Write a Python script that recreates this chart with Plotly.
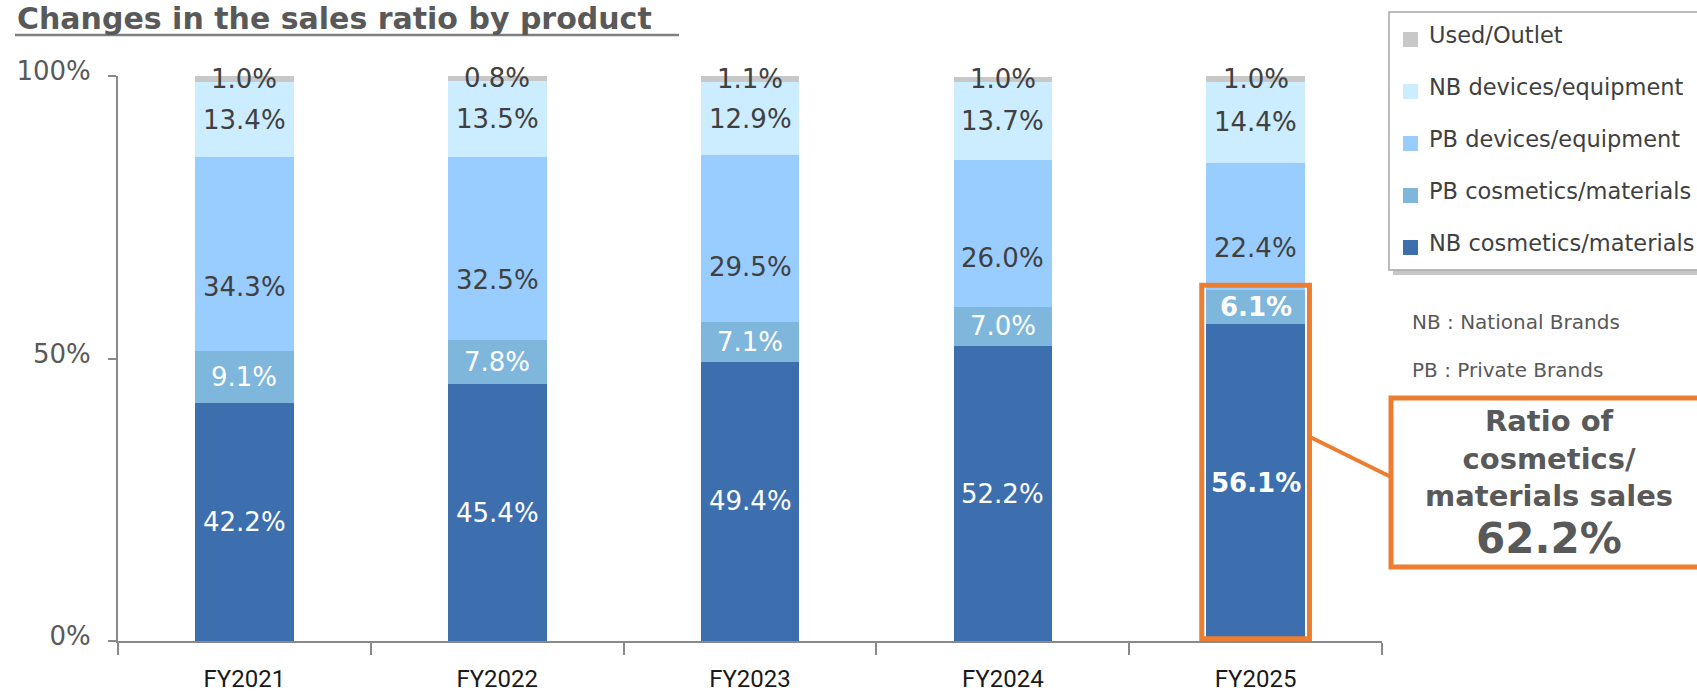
import plotly.graph_objects as go

# ---- data -------------------------------------------------------------
categories = ["FY2021", "FY2022", "FY2023", "FY2024", "FY2025"]
nb_cosmetics = [42.2, 45.4, 49.4, 52.2, 56.1]
pb_cosmetics = [9.1, 7.8, 7.1, 7.0, 6.1]
pb_devices = [34.3, 32.5, 29.5, 26.0, 22.4]
nb_devices = [13.4, 13.5, 12.9, 13.7, 14.4]
used_outlet = [1.0, 0.8, 1.1, 1.0, 1.0]

series_names = [
    "NB cosmetics/materials",
    "PB cosmetics/materials",
    "PB devices/equipment",
    "NB devices/equipment",
    "Used/Outlet",
]
y_tick_values = [0, 50, 100]
y_tick_labels = ["0%", "50%", "100%"]

# ---- styling ------------------------------------------------------------
W, H = 1697, 693
L, R, T, B = 118, 1382, 76, 641          # plot area in pixels
series_values = [nb_cosmetics, pb_cosmetics, pb_devices, nb_devices, used_outlet]
series_colors = ["#3D6FAF", "#7FB6DB", "#99CCFF", "#CCECFF", "#C8C8C8"]
label_colors = ["#FFFFFF", "#FFFFFF", "#404040", "#404040", "#404040"]
label_frac = [0.5, 0.5, 0.33, 0.5, 0.5]   # where inside a segment its label sits
highlight = len(categories) - 1           # FY2025 is emphasised
ORANGE = "#ED7D31"
GRAY_TXT = "#595959"
LABEL_FONT = "DejaVu Sans"


def px(x):
    return (x - L) / (R - L)


def py(y):
    return (B - y) / (B - T)


fig = go.Figure()

for name, vals, col in zip(series_names, series_values, series_colors):
    fig.add_trace(go.Bar(
        x=categories, y=vals, name=name, marker_color=col,
        marker_line_width=0, width=0.39, showlegend=False,
        hoverinfo="x+y+name",
    ))

annotations = []
shapes = []

# value labels inside the stacked segments
base = [0.0] * len(categories)
for s, (vals, tcol, frac) in enumerate(zip(series_values, label_colors, label_frac)):
    for i, v in enumerate(vals):
        text = f"{v:.1f}%"
        if i == highlight and s < 2:
            text = f"<b>{text}</b>"
        annotations.append(dict(
            x=categories[i], y=base[i] + v * frac, xref="x", yref="y",
            text=text, showarrow=False,
            font=dict(family=LABEL_FONT, size=26, color=tcol),
            xanchor="center", yanchor="middle",
        ))
        base[i] += v

# orange frame around the cosmetics/materials part of the emphasised bar
cosmetics_share = nb_cosmetics[highlight] + pb_cosmetics[highlight]
shapes.append(dict(
    type="rect", xref="x", yref="y",
    x0=highlight - 0.213, x1=highlight + 0.213,
    y0=0.4, y1=cosmetics_share + 0.75,
    line=dict(color=ORANGE, width=5), fillcolor="rgba(0,0,0,0)",
))

# connector and callout box
shapes.append(dict(
    type="line", xref="paper", yref="paper",
    x0=px(1310), y0=py(437), x1=px(1391), y1=py(477),
    line=dict(color=ORANGE, width=4),
))
shapes.append(dict(
    type="rect", xref="paper", yref="paper",
    x0=px(1391), x1=px(1760), y0=py(567), y1=py(398),
    line=dict(color=ORANGE, width=5), fillcolor="white",
))
annotations.append(dict(
    x=px(1549), y=py(458), xref="paper", yref="paper",
    text="<b>Ratio of<br>cosmetics/<br>materials sales</b>",
    showarrow=False, align="center", xanchor="center", yanchor="middle",
    font=dict(family=LABEL_FONT, size=29, color=GRAY_TXT),
))
annotations.append(dict(
    x=px(1549), y=py(538), xref="paper", yref="paper",
    text=f"<b>{cosmetics_share:.1f}%</b>",
    showarrow=False, xanchor="center", yanchor="middle",
    font=dict(family=LABEL_FONT, size=42, color=GRAY_TXT),
))

# legend drawn as a framed box with a soft shadow
shapes.append(dict(
    type="rect", xref="paper", yref="paper",
    x0=px(1393), x1=px(1765), y0=py(275), y1=py(17),
    line=dict(width=0), fillcolor="rgba(0,0,0,0.22)",
))
shapes.append(dict(
    type="rect", xref="paper", yref="paper",
    x0=px(1389), x1=px(1760), y0=py(270), y1=py(12),
    line=dict(color="#A6A6A6", width=1.5), fillcolor="white",
))
legend_rows = list(zip(series_names, series_colors))[::-1]
for k, (name, col) in enumerate(legend_rows):
    cy = 35 + 52 * k
    shapes.append(dict(
        type="rect", xref="paper", yref="paper",
        x0=px(1403), x1=px(1418), y0=py(cy + 12), y1=py(cy - 3),
        line=dict(width=0), fillcolor=col,
    ))
    annotations.append(dict(
        x=px(1427), y=py(cy), xref="paper", yref="paper",
        text=name, showarrow=False, xanchor="left", yanchor="middle",
        font=dict(family=LABEL_FONT, size=22.5, color="#404040"),
    ))

# abbreviation notes
for text, yy in [("NB : National Brands", 322), ("PB : Private Brands", 370)]:
    annotations.append(dict(
        x=px(1410), y=py(yy), xref="paper", yref="paper",
        text=text, showarrow=False, xanchor="left", yanchor="middle",
        font=dict(family=LABEL_FONT, size=20, color=GRAY_TXT),
    ))

# underlined chart title
annotations.append(dict(
    x=px(15), y=py(19), xref="paper", yref="paper",
    text="<b>Changes in the sales ratio by product</b>",
    showarrow=False, xanchor="left", yanchor="middle",
    font=dict(family=LABEL_FONT, size=30, color=GRAY_TXT),
))
shapes.append(dict(
    type="line", xref="paper", yref="paper",
    x0=px(15), x1=px(679), y0=py(35), y1=py(35),
    line=dict(color="#7F7F7F", width=2.5),
))

fig.update_layout(
    width=W, height=H,
    margin=dict(l=L, r=W - R, t=T, b=H - B, autoexpand=False),
    barmode="stack",
    bargap=0.61,
    plot_bgcolor="white", paper_bgcolor="white",
    annotations=annotations, shapes=shapes,
    showlegend=False,
)
fig.update_xaxes(
    type="category", range=[-0.5, len(categories) - 0.5],
    showline=True, linecolor="#898989", linewidth=2,
    ticks="outside", tickson="boundaries", ticklen=12,
    tickcolor="#898989", tickwidth=2,
    tickfont=dict(family="Roboto", size=24, color="#1A1A1A"),
    ticklabelstandoff=15, showgrid=False, automargin=False,
)
fig.update_yaxes(
    range=[0, 100], tickvals=y_tick_values, ticktext=y_tick_labels,
    showline=True, linecolor="#898989", linewidth=2,
    ticks="outside", ticklen=8, tickcolor="#898989", tickwidth=2,
    tickfont=dict(family=LABEL_FONT, size=26, color=GRAY_TXT),
    ticklabelstandoff=12, ticklabelshift=-5,
    showgrid=False, zeroline=False, automargin=False,
)

fig.write_html("out.html")
